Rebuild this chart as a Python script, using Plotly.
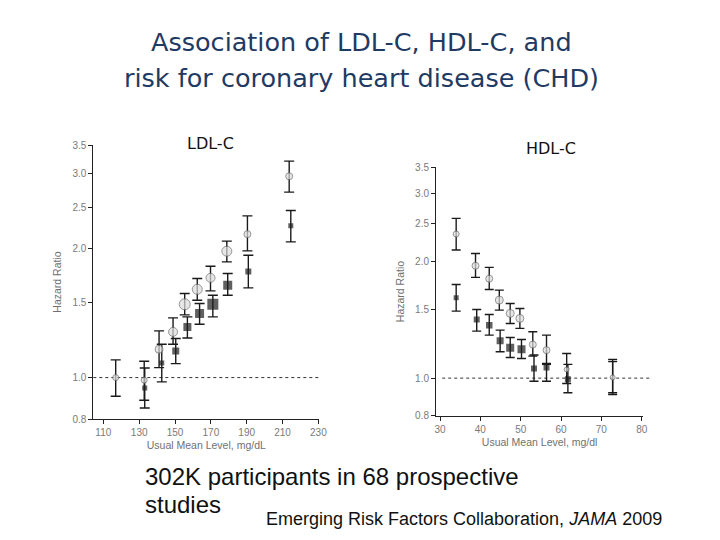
import plotly.graph_objects as go
import math

# ---------------- data ----------------
# LDL-C panel: circles (light grey) and squares (black)
ldl_c_x  = [116.9, 132.8, 141.1, 148.9, 155.4, 162.4, 169.8, 178.9, 190.4, 213.7]
ldl_c_hr = [1.000, 0.986, 1.165, 1.279, 1.484, 1.609, 1.711, 1.975, 2.165, 2.958]
ldl_c_lo = [0.904, 0.885, 1.055, 1.197, 1.402, 1.517, 1.595, 1.865, 1.979, 2.715]
ldl_c_hi = [1.100, 1.092, 1.286, 1.379, 1.573, 1.705, 1.822, 2.085, 2.389, 3.208]

ldl_s_x  = [133.1, 142.6, 150.4, 156.9, 163.7, 171.1, 179.4, 190.9, 214.6]
ldl_s_hr = [0.946, 1.082, 1.154, 1.314, 1.412, 1.484, 1.645, 1.770, 2.264]
ldl_s_lo = [0.849, 0.977, 1.078, 1.238, 1.333, 1.387, 1.558, 1.621, 2.077]
ldl_s_hi = [1.053, 1.197, 1.234, 1.387, 1.490, 1.558, 1.752, 1.933, 2.459]

# HDL-C panel
hdl_c_x  = [34.0, 38.8, 42.2, 44.7, 47.4, 49.8, 53.0, 56.4, 61.4, 72.8]
hdl_c_hr = [2.354, 1.950, 1.806, 1.590, 1.469, 1.426, 1.221, 1.181, 1.053, 1.004]
hdl_c_lo = [2.141, 1.820, 1.694, 1.498, 1.384, 1.344, 1.140, 1.091, 0.969, 0.907]
hdl_c_hi = [2.584, 2.098, 1.931, 1.687, 1.558, 1.513, 1.317, 1.291, 1.158, 1.117]

hdl_s_x  = [34.0, 39.1, 42.2, 44.9, 47.4, 50.2, 53.3, 56.4, 61.7, 72.8]
hdl_s_hr = [1.612, 1.417, 1.370, 1.248, 1.198, 1.188, 1.059, 1.065, 0.994, 1.000]
hdl_s_lo = [1.489, 1.322, 1.291, 1.170, 1.131, 1.124, 0.982, 0.982, 0.917, 0.917]
hdl_s_hi = [1.745, 1.504, 1.460, 1.330, 1.273, 1.258, 1.147, 1.085, 1.085, 1.103]

# marker sizes (style, px)
ldl_c_size = [6, 6, 8, 9, 11, 10, 9, 10, 7, 7]
ldl_s_size = [5, 5, 7, 8, 9, 11, 9, 6, 5]
hdl_c_size = [6, 7, 7, 8, 8, 8, 7, 7, 5, 5]
hdl_s_size = [5, 6, 6.5, 7, 8, 8, 6, 6, 6, 0]

y_ticks = [0.8, 1.0, 1.5, 2.0, 2.5, 3.0, 3.5]
y_tick_text = ["0.8", "1.0", "1.5", "2.0", "2.5", "3.0", "3.5"]
ldl_x_ticks = [110, 130, 150, 170, 190, 210, 230]
hdl_x_ticks = [30, 40, 50, 60, 70, 80]

# ---------------- layout helpers ----------------
W, H = 720, 540
OX, OY = 8, 8   # page body offset of the plot div


def px(x):
    return (x - OX) / W


def py(y):
    return 1 - (y - OY) / H


def err(hr, lo, hi):
    return dict(type="data", symmetric=False,
                array=[h - v for v, h in zip(hr, hi)],
                arrayminus=[v - l for v, l in zip(hr, lo)])


fig = go.Figure()

BAR = "#1a1a1a"
CIRC_FILL = "#dcdcdc"
CIRC_LINE = "#6a6a6a"
SQ_FILL = "#1c1c1c"


def add_series(x, hr, lo, hi, size, symbol, xa, ya, capw):
    e = err(hr, lo, hi)
    e.update(color=BAR, thickness=1.4, width=capw)
    if symbol == "circle":
        mk = dict(symbol="circle", size=size, color=CIRC_FILL,
                  line=dict(color=CIRC_LINE, width=1))
    else:
        mk = dict(symbol="square", size=size, color=SQ_FILL,
                  line=dict(width=0))
    fig.add_trace(go.Scatter(x=x, y=hr, mode="markers", marker=mk,
                             error_y=e, xaxis=xa, yaxis=ya,
                             showlegend=False, hoverinfo="skip"))


add_series(ldl_s_x, ldl_s_hr, ldl_s_lo, ldl_s_hi, ldl_s_size, "square", "x", "y", 5)
add_series(ldl_c_x, ldl_c_hr, ldl_c_lo, ldl_c_hi, ldl_c_size, "circle", "x", "y", 5)
add_series(hdl_s_x, hdl_s_hr, hdl_s_lo, hdl_s_hi, hdl_s_size, "square", "x2", "y2", 4.5)
add_series(hdl_c_x, hdl_c_hr, hdl_c_lo, hdl_c_hi, hdl_c_size, "circle", "x2", "y2", 4.5)

# reference lines at HR = 1
fig.add_shape(type="line", xref="x domain", yref="y", x0=0, x1=1, y0=1, y1=1,
              line=dict(color="#333333", width=1, dash="dot"), layer="below")
fig.add_shape(type="line", xref="x2 domain", yref="y2", x0=0.03, x1=1.04, y0=1, y1=1,
              line=dict(color="#333333", width=1, dash="dot"), layer="below")

tickfont = dict(family="Liberation Sans, Arial, sans-serif", size=10, color="#7a7a7a")
titlefont = dict(family="Liberation Sans, Arial, sans-serif", size=10.5, color="#707070")

axis_common = dict(showgrid=False, zeroline=False, showline=True, linecolor="#222222",
                   linewidth=1, ticks="outside", ticklen=4, tickcolor="#222222",
                   tickwidth=1, tickfont=tickfont, mirror=False, automargin=False)

yrange = [math.log10(0.8), math.log10(3.5)]

fig.update_layout(
    template="none",
    width=W, height=H, autosize=False,
    margin=dict(l=0, r=0, t=0, b=0, pad=0),
    paper_bgcolor="white", plot_bgcolor="white",
    xaxis=dict(domain=[px(93.3), px(319.3)], range=[104.4, 230.5],
               tickvals=ldl_x_ticks, anchor="y",
               title=dict(text="Usual Mean Level, mg/dL", font=titlefont, standoff=4),
               **axis_common),
    yaxis=dict(domain=[py(419), py(145)], type="log", range=yrange,
               tickvals=y_ticks, ticktext=y_tick_text, anchor="x",
               title=dict(text="Hazard Ratio", font=titlefont, standoff=8),
               **axis_common),
    xaxis2=dict(domain=[px(436), px(643.3)], range=[29.0, 80.4],
                tickvals=hdl_x_ticks, anchor="y2",
                title=dict(text="Usual Mean Level, mg/dl", font=titlefont, standoff=4),
                **axis_common),
    yaxis2=dict(domain=[py(415.7), py(167.3)], type="log", range=yrange,
                tickvals=y_ticks, ticktext=y_tick_text, anchor="x2",
                title=dict(text="Hazard Ratio", font=titlefont, standoff=8),
                **axis_common),
)

TITLE_COLOR = "#1f3a63"
title_font = dict(family="DejaVu Sans, sans-serif", size=25.5, color=TITLE_COLOR)
fig.add_annotation(text="Association of LDL-C, HDL-C, and", xref="paper", yref="paper",
                   x=px(361), y=py(42), xanchor="center", yanchor="middle",
                   showarrow=False, font=title_font)
fig.add_annotation(text="risk for coronary heart disease (CHD)", xref="paper", yref="paper",
                   x=px(361), y=py(78), xanchor="center", yanchor="middle",
                   showarrow=False, font=title_font)

panel_font = dict(family="DejaVu Sans, sans-serif", size=16, color="#111111")
fig.add_annotation(text="LDL-C", xref="paper", yref="paper", x=px(210), y=py(143),
                   xanchor="center", yanchor="middle", showarrow=False, font=panel_font)
fig.add_annotation(text="HDL-C", xref="paper", yref="paper", x=px(551), y=py(148),
                   xanchor="center", yanchor="middle", showarrow=False, font=panel_font)

body_font = dict(family="Liberation Sans, Arial, sans-serif", size=24, color="#111111")
fig.add_annotation(text="302K participants in 68 prospective", xref="paper", yref="paper",
                   x=px(143), y=py(476), xanchor="left", yanchor="middle",
                   showarrow=False, font=body_font)
fig.add_annotation(text="studies", xref="paper", yref="paper",
                   x=px(143), y=py(504), xanchor="left", yanchor="middle",
                   showarrow=False, font=body_font)
fig.add_annotation(text="Emerging Risk Factors Collaboration, <i>JAMA</i> 2009", xref="paper",
                   yref="paper", x=px(264), y=py(519), xanchor="left", yanchor="middle",
                   showarrow=False,
                   font=dict(family="Liberation Sans, Arial, sans-serif", size=18, color="#111111"))

fig.write_html("out.html")
